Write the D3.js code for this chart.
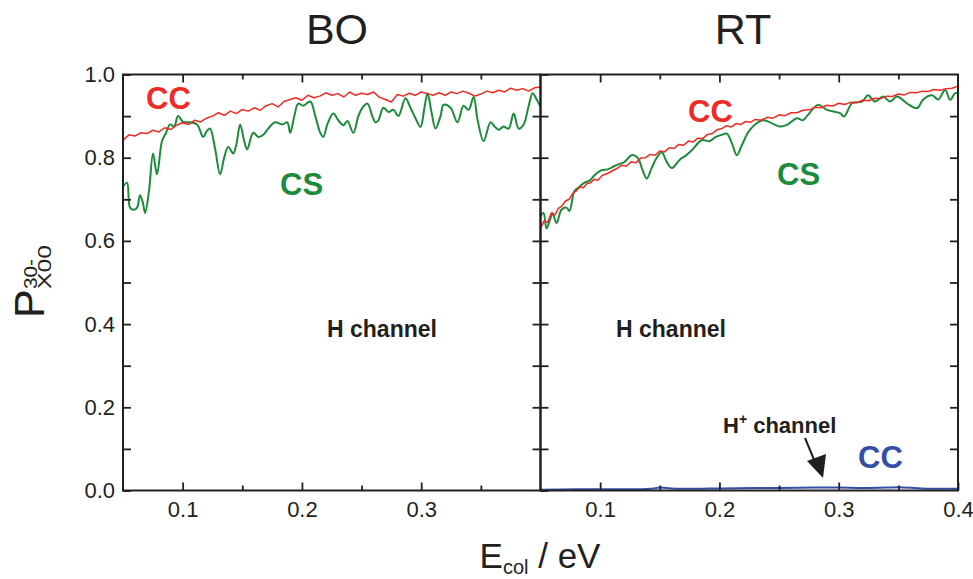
<!DOCTYPE html>
<html><head><meta charset="utf-8">
<script src="https://cdn.jsdelivr.net/npm/d3@7/dist/d3.min.js"></script>
<style>body{margin:0;background:#fff}svg{display:block}text{font-family:"Liberation Sans",Arial,Helvetica,sans-serif}</style>
</head><body><svg id="c" width="973" height="579"></svg>
<script>
// ---------------- data ----------------
const panels = ["BO", "RT"];
const xMajorTicksLeft = [0.1, 0.2, 0.3];
const xMajorTicksRight = [0.1, 0.2, 0.3, 0.4];
const xMinorTicks = [0.15, 0.25, 0.35];
const yMajorTicks = [0.0, 0.2, 0.4, 0.6, 0.8, 1.0];
const yMinorTicks = [0.1, 0.3, 0.5, 0.7, 0.9];

// BO panel, CC (red)
const boCC_E = [0.050,0.055,0.060,0.065,0.070,0.075,0.080,0.085,0.090,0.095,0.100,0.105,0.110,0.115,0.120,0.125,0.130,0.135,0.140,0.145,0.150,0.155,0.160,0.165,0.170,0.175,0.180,0.185,0.190,0.195,0.200,0.205,0.210,0.215,0.220,0.225,0.230,0.235,0.240,0.245,0.250,0.255,0.260,0.265,0.270,0.275,0.280,0.285,0.290,0.295,0.300,0.305,0.310,0.315,0.320,0.325,0.330,0.335,0.340,0.345,0.350,0.355,0.360,0.365,0.370,0.375,0.380,0.385,0.390,0.395,0.400];
const boCC_P = [0.842,0.855,0.852,0.860,0.858,0.866,0.862,0.872,0.868,0.878,0.884,0.880,0.890,0.886,0.895,0.900,0.908,0.902,0.912,0.906,0.916,0.912,0.920,0.914,0.925,0.930,0.922,0.935,0.940,0.944,0.938,0.950,0.944,0.948,0.956,0.950,0.954,0.946,0.958,0.950,0.955,0.952,0.958,0.945,0.940,0.934,0.952,0.948,0.955,0.950,0.958,0.954,0.950,0.956,0.950,0.958,0.954,0.960,0.955,0.948,0.953,0.960,0.956,0.962,0.958,0.967,0.962,0.966,0.960,0.968,0.970];

// BO panel, CS (green)
const boCS_E = [0.0500,0.0534,0.0559,0.0592,0.0618,0.0643,0.0668,0.0685,0.0718,0.0752,0.0785,0.0827,0.0861,0.0895,0.0928,0.0962,0.1004,0.1063,0.1121,0.1172,0.1205,0.1230,0.1273,0.1314,0.1348,0.1382,0.1424,0.1449,0.1482,0.1516,0.1541,0.1592,0.1634,0.1676,0.1717,0.1776,0.1835,0.1877,0.1902,0.1936,0.1969,0.2011,0.2070,0.2112,0.2154,0.2179,0.2213,0.2263,0.2305,0.2347,0.2381,0.2431,0.2473,0.2507,0.2549,0.2590,0.2616,0.2641,0.2683,0.2725,0.2767,0.2809,0.2868,0.2910,0.2952,0.2994,0.3027,0.3053,0.3086,0.3120,0.3162,0.3187,0.3246,0.3304,0.3355,0.3397,0.3439,0.3473,0.3523,0.3581,0.3615,0.3649,0.3690,0.3733,0.3775,0.3817,0.3859,0.3901,0.3934,0.3968,0.4000];
const boCS_P = [0.730,0.740,0.680,0.675,0.680,0.710,0.690,0.667,0.720,0.810,0.760,0.840,0.860,0.880,0.875,0.900,0.886,0.885,0.880,0.850,0.865,0.870,0.820,0.760,0.800,0.826,0.810,0.830,0.880,0.840,0.820,0.860,0.850,0.855,0.870,0.885,0.880,0.885,0.860,0.900,0.930,0.925,0.935,0.900,0.860,0.850,0.880,0.906,0.890,0.878,0.888,0.860,0.900,0.920,0.930,0.900,0.885,0.890,0.920,0.910,0.915,0.900,0.943,0.920,0.895,0.874,0.920,0.955,0.910,0.870,0.900,0.927,0.920,0.885,0.925,0.915,0.946,0.890,0.840,0.885,0.875,0.867,0.875,0.870,0.906,0.870,0.880,0.925,0.955,0.940,0.923];

// RT panel, CC (red)
const rtCC_E = [0.050,0.053,0.056,0.059,0.062,0.065,0.068,0.071,0.074,0.077,0.080,0.083,0.086,0.089,0.092,0.095,0.098,0.102,0.106,0.110,0.114,0.118,0.122,0.126,0.130,0.134,0.138,0.142,0.146,0.150,0.154,0.158,0.162,0.166,0.170,0.174,0.178,0.182,0.186,0.190,0.194,0.198,0.202,0.206,0.210,0.214,0.218,0.222,0.226,0.230,0.235,0.240,0.245,0.250,0.255,0.260,0.265,0.270,0.275,0.280,0.285,0.290,0.295,0.300,0.305,0.310,0.315,0.320,0.325,0.330,0.335,0.340,0.345,0.350,0.355,0.360,0.365,0.370,0.375,0.380,0.385,0.390,0.395,0.400];
const rtCC_P = [0.630,0.648,0.645,0.667,0.662,0.678,0.684,0.696,0.700,0.714,0.720,0.730,0.728,0.738,0.740,0.748,0.746,0.758,0.762,0.768,0.774,0.782,0.780,0.790,0.788,0.799,0.800,0.808,0.806,0.816,0.814,0.824,0.822,0.832,0.830,0.840,0.838,0.847,0.846,0.856,0.858,0.867,0.870,0.877,0.874,0.882,0.880,0.887,0.885,0.892,0.890,0.897,0.895,0.903,0.901,0.908,0.908,0.914,0.915,0.921,0.920,0.926,0.924,0.931,0.928,0.933,0.932,0.938,0.937,0.943,0.942,0.948,0.947,0.953,0.951,0.957,0.956,0.960,0.959,0.964,0.962,0.966,0.967,0.972];

// RT panel, CS (green)
const rtCS_E = [0.0500,0.0525,0.0550,0.0584,0.0600,0.0634,0.0676,0.0718,0.0743,0.0785,0.0827,0.0869,0.0911,0.0953,0.1012,0.1063,0.1121,0.1163,0.1205,0.1264,0.1314,0.1356,0.1390,0.1432,0.1474,0.1516,0.1558,0.1600,0.1667,0.1717,0.1768,0.1852,0.1919,0.1969,0.2020,0.2062,0.2104,0.2146,0.2188,0.2255,0.2364,0.2423,0.2507,0.2566,0.2650,0.2700,0.2742,0.2826,0.2901,0.3011,0.3045,0.3112,0.3196,0.3246,0.3305,0.3372,0.3431,0.3490,0.3574,0.3657,0.3708,0.3783,0.3834,0.3892,0.3934,0.3976,0.4000];
const rtCS_P = [0.660,0.667,0.630,0.655,0.667,0.643,0.675,0.680,0.672,0.720,0.730,0.740,0.745,0.758,0.770,0.772,0.780,0.785,0.790,0.806,0.800,0.770,0.750,0.775,0.800,0.813,0.790,0.775,0.795,0.805,0.818,0.842,0.840,0.850,0.855,0.858,0.835,0.806,0.830,0.867,0.890,0.885,0.875,0.879,0.895,0.890,0.903,0.927,0.915,0.907,0.899,0.931,0.935,0.950,0.935,0.947,0.935,0.947,0.930,0.919,0.940,0.950,0.940,0.963,0.939,0.955,0.955];

// RT panel, H+ channel CC (blue)
const rtHp_E = [0.050,0.080,0.100,0.130,0.145,0.150,0.160,0.180,0.200,0.230,0.250,0.280,0.300,0.320,0.340,0.350,0.370,0.390,0.400];
const rtHp_P = [0.002,0.003,0.003,0.003,0.005,0.007,0.005,0.004,0.005,0.006,0.006,0.007,0.007,0.006,0.007,0.008,0.005,0.004,0.004];

// ---------------- layout ----------------
const svg = d3.select("#c");
const yTop = 74.5, yBottom = 490.5;
const panelX = [[123, 540.5], [540.5, 958]];
const y = d3.scaleLinear().domain([0, 1]).range([yBottom, yTop]);
const xs = panelX.map(r => d3.scaleLinear().domain([0.05, 0.4]).range(r));

const RED = "#ee2b24", GREEN = "#1c8b3b", BLUE = "#3350a6", INK = "#231f20";
const FONT = '"Liberation Sans",Arial,Helvetica,sans-serif';

const zip = (a, b) => a.map((v, i) => [v, b[i]]);

function drawCurve(x, E, P, color, w, curve) {
  const gen = d3.line().x(d => x(d[0])).y(d => y(d[1])).curve(curve || d3.curveLinear);
  svg.append("path").datum(zip(E, P)).attr("fill", "none").attr("stroke", color)
    .attr("stroke-width", w).attr("stroke-linejoin", "round").attr("d", gen);
}

// curves
drawCurve(xs[0], boCS_E, boCS_P, GREEN, 2, d3.curveCatmullRom.alpha(0.5));
drawCurve(xs[0], boCC_E, boCC_P, RED, 1.5);
drawCurve(xs[1], rtCS_E, rtCS_P, GREEN, 2, d3.curveCatmullRom.alpha(0.5));
drawCurve(xs[1], rtCC_E, rtCC_P, RED, 1.5);
drawCurve(xs[1], rtHp_E, rtHp_P, BLUE, 2, d3.curveCatmullRom.alpha(0.5));

// axes
function styleAxis(g) {
  g.selectAll(".domain").remove();
  g.selectAll(".tick line").attr("stroke", INK).attr("stroke-width", 1.8);
  g.selectAll(".tick text").attr("fill", INK).attr("font-family", FONT).attr("font-size", 22);
}
panelX.forEach((r, i) => {
  const x = xs[i];
  svg.append("g").attr("transform", `translate(0,${yBottom})`)
    .call(d3.axisBottom(x).tickValues(i === 0 ? xMajorTicksLeft : xMajorTicksRight).tickSize(-8).tickPadding(11).tickFormat(d3.format(".1f")))
    .call(styleAxis);
  svg.append("g").attr("transform", `translate(0,${yBottom})`)
    .call(d3.axisBottom(x).tickValues(xMinorTicks).tickSize(-5).tickFormat(""))
    .call(styleAxis);
  svg.append("g").attr("transform", `translate(0,${yTop})`)
    .call(d3.axisTop(x).tickValues(xMajorTicksLeft).tickSize(-8).tickFormat(""))
    .call(styleAxis);
  svg.append("g").attr("transform", `translate(0,${yTop})`)
    .call(d3.axisTop(x).tickValues(xMinorTicks).tickSize(-5).tickFormat(""))
    .call(styleAxis);
  svg.append("g").attr("transform", `translate(${r[0]},0)`)
    .call(d3.axisLeft(y).tickValues(yMajorTicks.concat(yMinorTicks)).tickSize(-8).tickPadding(8)
      .tickFormat(d => (i === 0 && yMajorTicks.includes(d)) ? d3.format(".1f")(d) : ""))
    .call(styleAxis);
  svg.append("g").attr("transform", `translate(${r[1]},0)`)
    .call(d3.axisRight(y).tickValues(yMajorTicks.concat(yMinorTicks).filter(d => d > 0 && d < 1)).tickSize(-8).tickFormat(""))
    .call(styleAxis);
  svg.append("rect").attr("x", r[0]).attr("y", yTop).attr("width", r[1] - r[0]).attr("height", yBottom - yTop)
    .attr("fill", "none").attr("stroke", INK).attr("stroke-width", 2);
  svg.append("text").attr("x", i === 0 ? 337 : 743).attr("y", 44).attr("text-anchor", "middle")
    .attr("font-size", 43).attr("fill", INK).text(panels[i]);
});

// annotations
function label(txt, xx, yy, color, size) {
  return svg.append("text").attr("x", xx).attr("y", yy).attr("fill", color).attr("font-size", size)
    .attr("font-weight", "bold").text(txt);
}
label("CC", 146, 109, RED, 31);
label("CS", 280, 195, GREEN, 31);
label("H channel", 327, 337, INK, 23);
label("CC", 688, 122, RED, 31);
label("CS", 777, 185, GREEN, 31);
label("H channel", 616, 337, INK, 23);
const hp = svg.append("text").attr("x", 723).attr("y", 433).attr("fill", INK).attr("font-size", 22).attr("font-weight", "bold");
hp.append("tspan").text("H");
hp.append("tspan").attr("font-size", 14).attr("dy", -9).text("+");
hp.append("tspan").attr("dy", 9).text(" channel");
label("CC", 858, 468, BLUE, 31);

// arrow
svg.append("line").attr("x1", 805).attr("y1", 438).attr("x2", 815).attr("y2", 462)
  .attr("stroke", INK).attr("stroke-width", 2);
svg.append("path").attr("d", "M807,461 L826,454 L823,478 Z").attr("fill", INK);

// y-axis label
const yg = svg.append("g").attr("transform", "translate(44,318) rotate(-90)");
yg.append("text").attr("x", 0).attr("y", 0).attr("font-size", 43).attr("fill", INK).text("P");
yg.append("text").attr("x", 29).attr("y", -7).attr("font-size", 19).attr("fill", INK)
  .attr("textLength", 30).attr("lengthAdjust", "spacingAndGlyphs").text("30-");
yg.append("text").attr("x", 29).attr("y", 7).attr("font-size", 19).attr("fill", INK)
  .attr("textLength", 44).attr("lengthAdjust", "spacingAndGlyphs").text("X00");

// x-axis label
const xl = svg.append("text").attr("x", 540).attr("y", 568).attr("text-anchor", "middle")
  .attr("font-size", 35).attr("fill", INK);
xl.append("tspan").text("E");
xl.append("tspan").attr("font-size", 20).attr("dy", 6).text("col");
xl.append("tspan").attr("dy", -6).text(" / eV");
</script></body></html>
